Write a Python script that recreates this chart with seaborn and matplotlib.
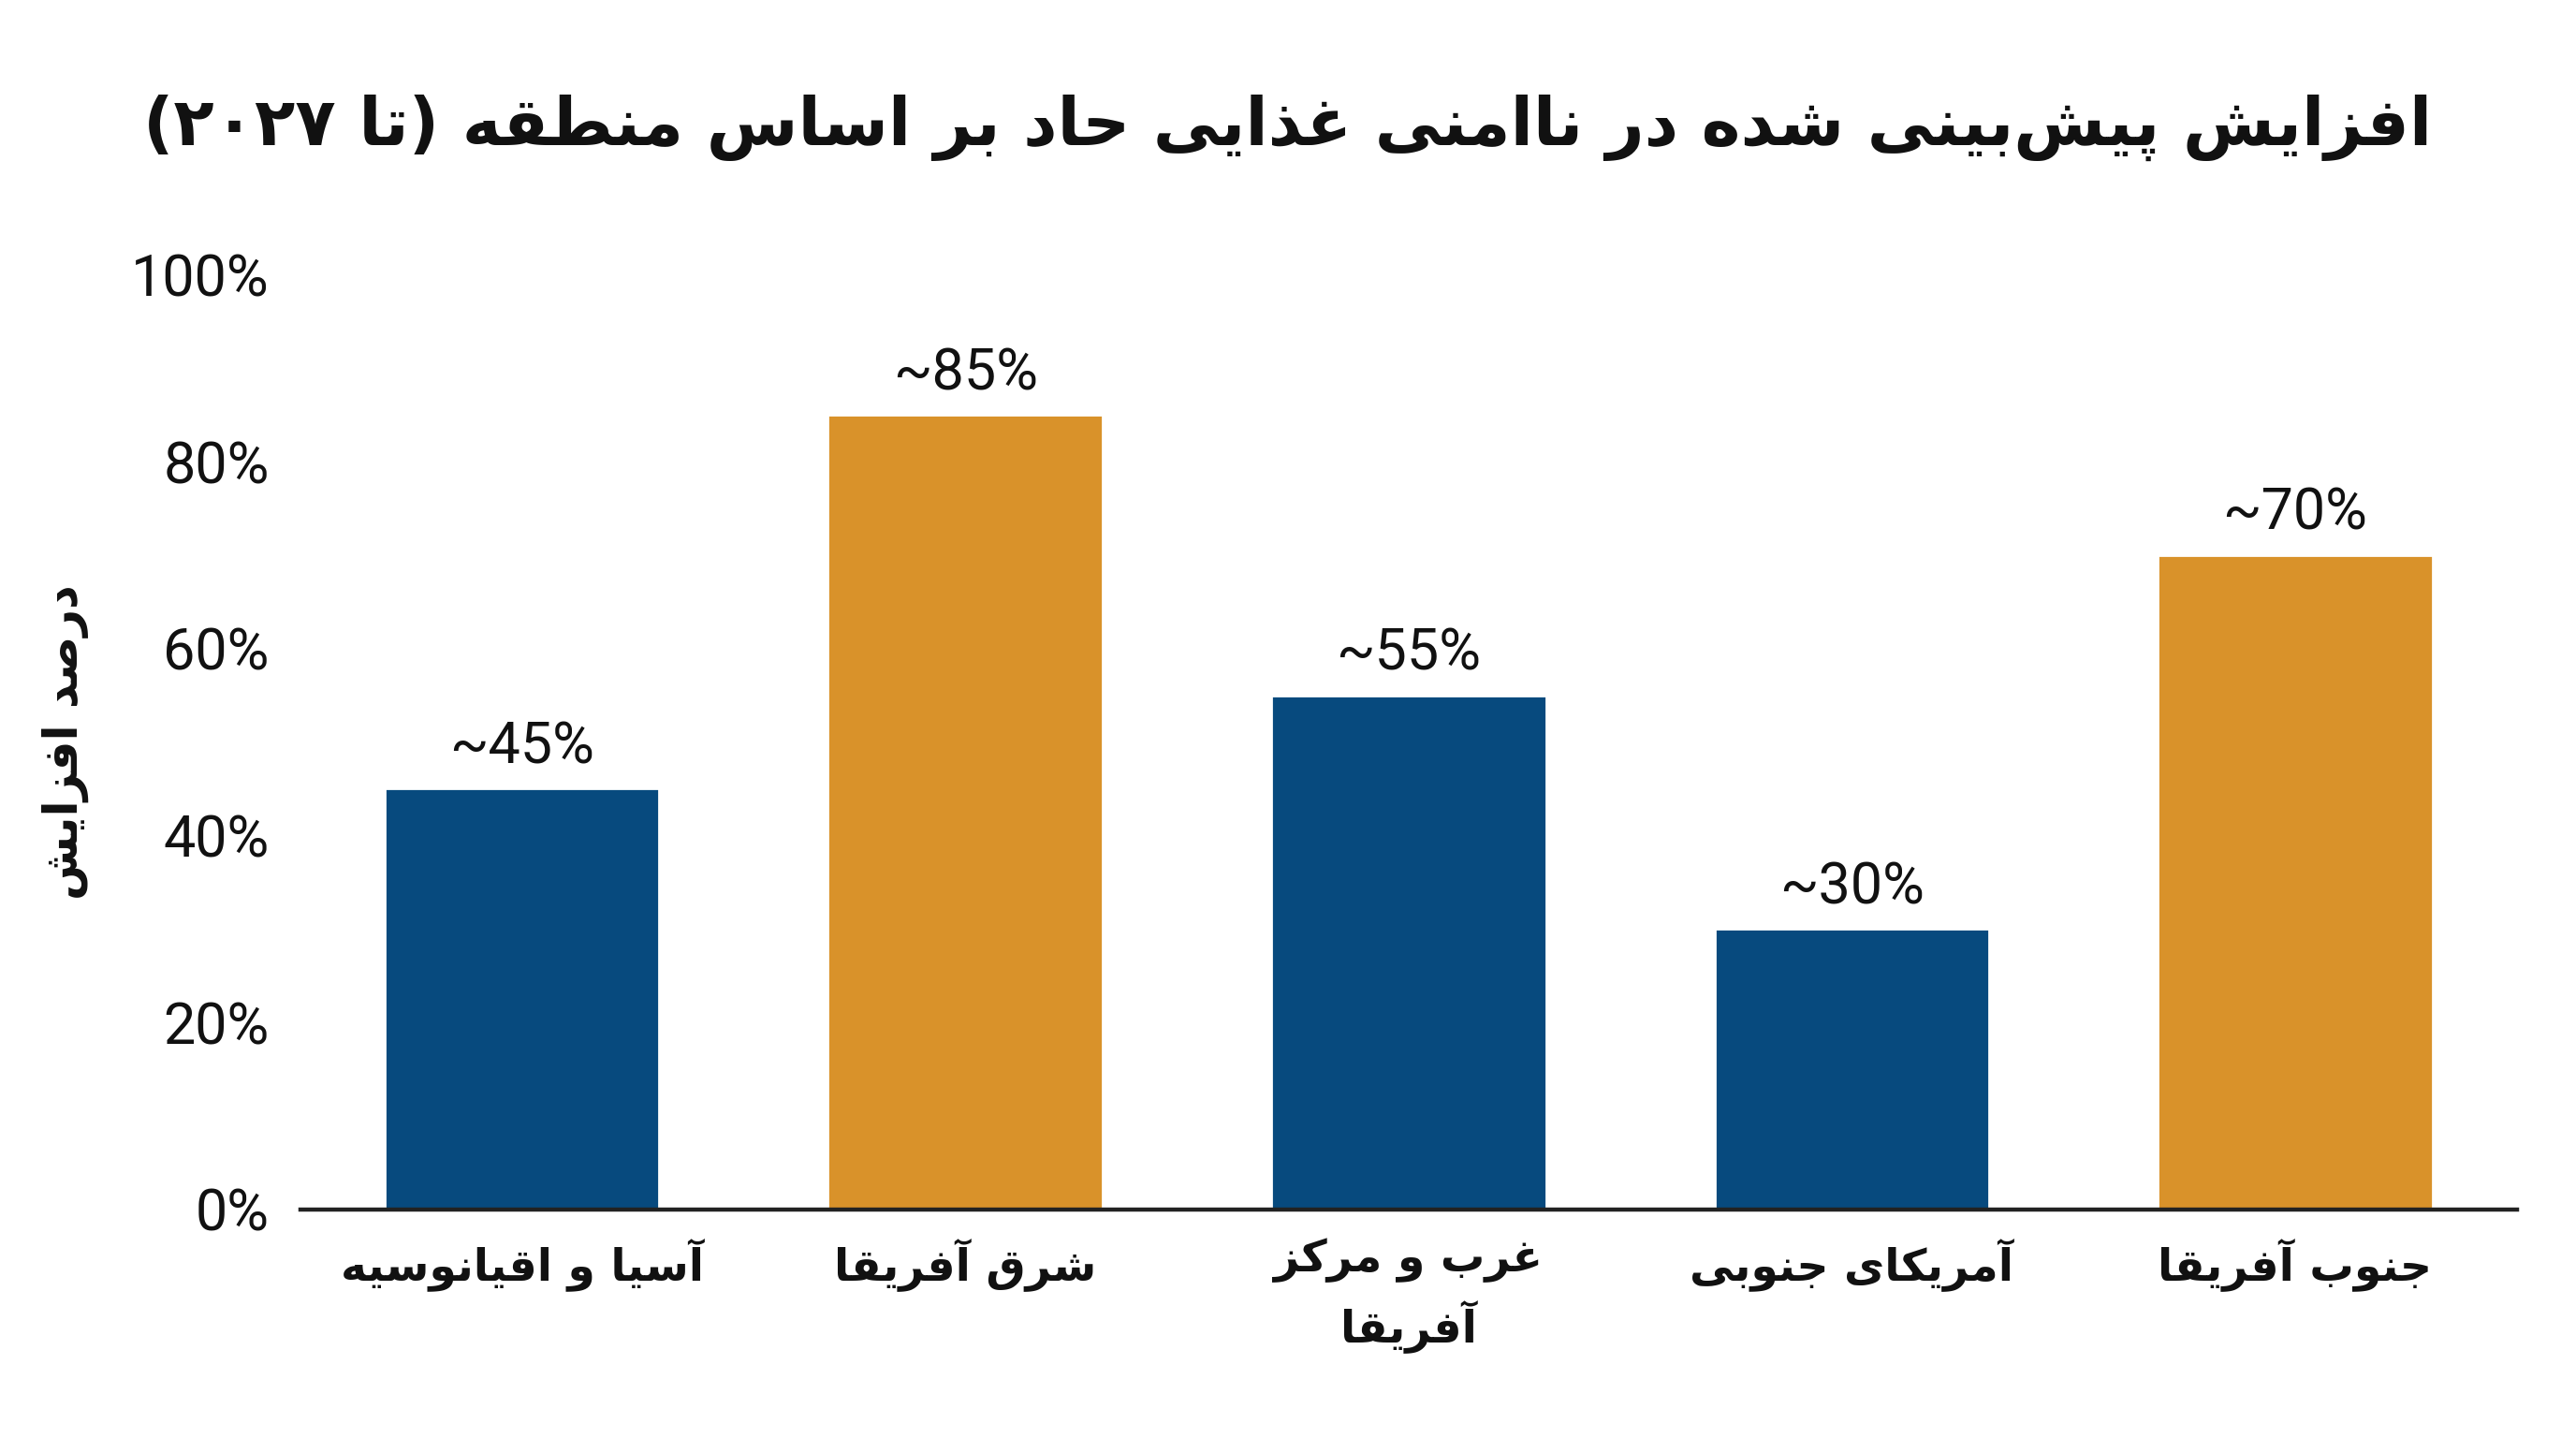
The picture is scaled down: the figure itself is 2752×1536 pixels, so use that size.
import re
import matplotlib
matplotlib.use("Agg")
import matplotlib.pyplot as plt
import seaborn as sns
import pandas as pd

# Chart data
regions = ["آسیا و اقیانوسیه", "شرق آفریقا", "غرب و مرکز\nآفریقا", "آمریکای جنوبی", "جنوب آفریقا"]
values = [45, 85, 55, 30, 70]
value_labels = ["~45%", "~85%", "~55%", "~30%", "~70%"]
y_ticks = [0, 20, 40, 60, 80, 100]
title_text = "افزایش پیش‌بینی شده در ناامنی غذایی حاد بر اساس منطقه (تا ۲۰۲۷)"
ylabel_text = "درصد افزایش"

bar_colors = ["#074A7E", "#D9922A", "#074A7E", "#074A7E", "#D9922A"]

# matplotlib has no Arabic shaping, so map letters to presentation forms by hand
# (isolated, final, initial, medial)
FORMS = {
    "ا": ("\uFE8D", "\uFE8E", None, None),
    "آ": ("\uFE81", "\uFE82", None, None),
    "ب": ("\uFE8F", "\uFE90", "\uFE91", "\uFE92"),
    "پ": ("\uFB56", "\uFB57", "\uFB58", "\uFB59"),
    "ت": ("\uFE95", "\uFE96", "\uFE97", "\uFE98"),
    "ث": ("\uFE99", "\uFE9A", "\uFE9B", "\uFE9C"),
    "ج": ("\uFE9D", "\uFE9E", "\uFE9F", "\uFEA0"),
    "چ": ("\uFB7A", "\uFB7B", "\uFB7C", "\uFB7D"),
    "ح": ("\uFEA1", "\uFEA2", "\uFEA3", "\uFEA4"),
    "خ": ("\uFEA5", "\uFEA6", "\uFEA7", "\uFEA8"),
    "د": ("\uFEA9", "\uFEAA", None, None),
    "ذ": ("\uFEAB", "\uFEAC", None, None),
    "ر": ("\uFEAD", "\uFEAE", None, None),
    "ز": ("\uFEAF", "\uFEB0", None, None),
    "ژ": ("\uFB8A", "\uFB8B", None, None),
    "س": ("\uFEB1", "\uFEB2", "\uFEB3", "\uFEB4"),
    "ش": ("\uFEB5", "\uFEB6", "\uFEB7", "\uFEB8"),
    "ص": ("\uFEB9", "\uFEBA", "\uFEBB", "\uFEBC"),
    "ض": ("\uFEBD", "\uFEBE", "\uFEBF", "\uFEC0"),
    "ط": ("\uFEC1", "\uFEC2", "\uFEC3", "\uFEC4"),
    "ظ": ("\uFEC5", "\uFEC6", "\uFEC7", "\uFEC8"),
    "ع": ("\uFEC9", "\uFECA", "\uFECB", "\uFECC"),
    "غ": ("\uFECD", "\uFECE", "\uFECF", "\uFED0"),
    "ف": ("\uFED1", "\uFED2", "\uFED3", "\uFED4"),
    "ق": ("\uFED5", "\uFED6", "\uFED7", "\uFED8"),
    "ک": ("\uFB8E", "\uFB8F", "\uFB90", "\uFB91"),
    "گ": ("\uFB92", "\uFB93", "\uFB94", "\uFB95"),
    "ل": ("\uFEDD", "\uFEDE", "\uFEDF", "\uFEE0"),
    "م": ("\uFEE1", "\uFEE2", "\uFEE3", "\uFEE4"),
    "ن": ("\uFEE5", "\uFEE6", "\uFEE7", "\uFEE8"),
    "ه": ("\uFEE9", "\uFEEA", "\uFEEB", "\uFEEC"),
    "و": ("\uFEED", "\uFEEE", None, None),
    "ی": ("\uFBFC", "\uFBFD", "\uFBFE", "\uFBFF"),
}


def shape_line(text):
    out = []
    for i, c in enumerate(text):
        if c not in FORMS:
            out.append(c)
            continue
        prev = text[i - 1] if i > 0 else ""
        nxt = text[i + 1] if i + 1 < len(text) else ""
        join_prev = prev in FORMS and FORMS[prev][2] is not None
        join_next = nxt in FORMS and FORMS[c][2] is not None
        iso, fin, ini, med = FORMS[c]
        if join_prev and join_next:
            out.append(med)
        elif join_prev:
            out.append(fin)
        elif join_next:
            out.append(ini)
        else:
            out.append(iso)
    s = "".join(out).replace("\u200c", "")
    # visual order: reverse, but keep digit runs left-to-right
    runs = re.findall(r"[0-9\u06F0-\u06F9]+|.", s)
    mirror = {"(": ")", ")": "("}
    return "".join(mirror.get(r, r) for r in reversed(runs))


def rtl(text):
    return "\n".join(shape_line(line) for line in text.split("\n"))


df = pd.DataFrame({"region": [rtl(r) for r in regions], "value": values})

sns.set_theme(style="white")
plt.rcParams["font.family"] = ["Roboto", "DejaVu Sans"]

fig = plt.figure(figsize=(13.76, 7.68), dpi=200)
ax = fig.add_axes([0.1166, 0.159, 0.8604, 0.650])

sns.barplot(data=df, x="region", y="value", hue="region", palette=bar_colors,
            legend=False, width=0.62, saturation=1, ax=ax)

for i, (v, lab) in enumerate(zip(values, value_labels)):
    ax.text(i, v + 1.5, lab, ha="center", va="bottom", fontsize=22,
            family=["Roboto", "DejaVu Sans"], color="#111111")

ax.set_ylim(0, 100)
ax.set_xlim(-0.5, 4.5)
ax.set_yticks(y_ticks)
ax.set_yticklabels([f"{t}%" for t in y_ticks], fontsize=22, family=["Roboto"], color="#111111")
ax.set_xticks(range(len(regions)))
ax.set_xticklabels(df["region"], fontsize=17, fontweight="bold",
                   family=["DejaVu Sans"], color="#111111", linespacing=1.4)
ax.tick_params(axis="both", length=0)
ax.tick_params(axis="x", pad=11)
ax.tick_params(axis="y", pad=12)
ax.set_xlabel("")
ax.set_ylabel(rtl(ylabel_text), fontsize=18, fontweight="bold",
              family=["DejaVu Sans"], color="#111111", labelpad=16)

sns.despine(ax=ax, left=True)
ax.spines["bottom"].set_color("#222222")
ax.spines["bottom"].set_linewidth(1.6)
ax.grid(False)

fig.text(0.5, 0.911, rtl(title_text), ha="center", va="center", fontsize=25.5,
         fontweight="bold", family=["DejaVu Sans"], color="#111111")

fig.savefig("out.png", dpi=200, facecolor="white")
